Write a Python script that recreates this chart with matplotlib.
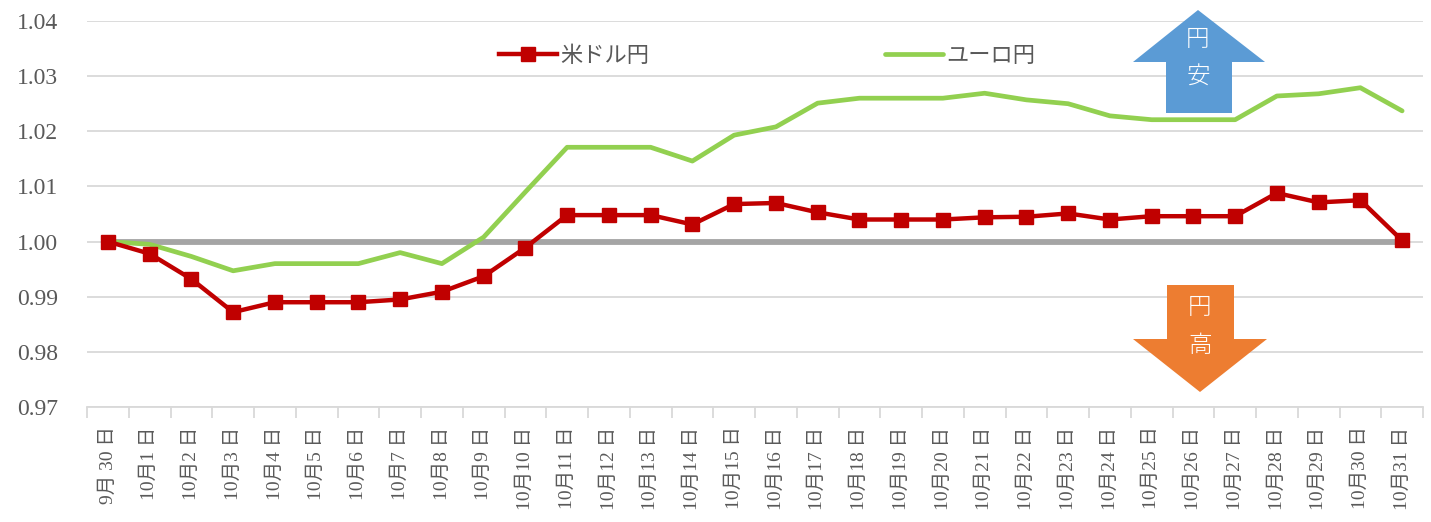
import matplotlib
matplotlib.use("Agg")
import matplotlib.pyplot as plt
from matplotlib.patches import Polygon
import numpy as np

plt.rcParams['font.family'] = ['Liberation Serif', 'Noto Sans CJK JP', 'DejaVu Sans']

dates = ["9月 30 日"] + [f"10月{d} 日" for d in range(1, 32)]
usd_jpy = [1.0000, 0.9978, 0.9932, 0.9872, 0.9890, 0.9890, 0.9890, 0.9895,
           0.9909, 0.9937, 0.9989, 1.0048, 1.0048, 1.0048, 1.0031, 1.0068,
           1.0070, 1.0053, 1.0040, 1.0040, 1.0040, 1.0044, 1.0045, 1.0051,
           1.0040, 1.0046, 1.0046, 1.0046, 1.0088, 1.0071, 1.0075, 1.0002]
eur_jpy = [1.0000, 0.9995, 0.9973, 0.9947, 0.9960, 0.9960, 0.9960, 0.9980,
           0.9960, 1.0008, 1.0090, 1.0171, 1.0171, 1.0171, 1.0146, 1.0193,
           1.0208, 1.0251, 1.0260, 1.0260, 1.0260, 1.0269, 1.0257, 1.0250,
           1.0228, 1.0221, 1.0221, 1.0221, 1.0264, 1.0268, 1.0279, 1.0237]
base = [1.0] * len(dates)
yticks = [0.97, 0.98, 0.99, 1.00, 1.01, 1.02, 1.03, 1.04]

W, H = 1431, 522
fig = plt.figure(figsize=(W / 100, H / 100), dpi=100)
ax = fig.add_axes([87 / W, 1 - 407 / H, 1336 / W, 386 / H])

x = np.arange(len(dates))
ax.plot(x, base, color='#A5A5A5', lw=4.2, zorder=2, solid_capstyle='round')
ax.plot(x, eur_jpy, color='#92D050', lw=3.4, zorder=3, label='ユーロ円',
        solid_capstyle='round')
ax.plot(x, usd_jpy, color='#C00000', lw=3.2, marker='s', ms=9.5, zorder=4,
        label='米ドル円')

ax.set_xlim(-0.5, len(dates) - 0.5)
ax.set_ylim(0.97, 1.04)
ax.set_yticks(yticks)
ax.set_yticklabels([f"{v:.2f}" for v in yticks], fontsize=17, color='#595959')
ax.grid(axis='y', color='#D9D9D9', lw=1.3)
ax.set_axisbelow(True)
for s in ['left', 'right', 'top']:
    ax.spines[s].set_visible(False)
ax.spines['bottom'].set_color('#D9D9D9')
ax.spines['bottom'].set_linewidth(1.3)
ax.tick_params(axis='y', length=0, pad=21)

ax.set_xticks(x)
ax.set_xticklabels(dates, rotation=90, fontsize=14, color='#595959')
ax.tick_params(axis='x', length=0, pad=14)
ax.set_xticks(np.arange(-0.5, len(dates)), minor=True)
ax.tick_params(axis='x', which='minor', length=8, color='#D9D9D9', width=1.3)

# Legend
h, l = ax.get_legend_handles_labels()
order = [1, 0]
leg = ax.legend([h[i] for i in order], [l[i] for i in order], ncol=2,
                loc='center', bbox_to_anchor=(0.5 + 12 / 1336, 1 - (57 - 21) / 386),
                frameon=False, fontsize=16, labelcolor='#595959',
                handlelength=2.6, handletextpad=0.15, columnspacing=10.6)

def fig_pts(pts):
    return [(px / W, 1 - py / H) for px, py in pts]

up = [(1198, 10), (1265, 62), (1232, 62), (1232, 113), (1166, 113),
      (1166, 62), (1133, 62)]
down = [(1167, 285), (1234, 285), (1234, 339), (1267, 339), (1200, 392),
        (1133, 339), (1167, 339)]
fig.patches.append(Polygon(fig_pts(up), closed=True, transform=fig.transFigure,
                           facecolor='#5B9BD5', edgecolor='none', zorder=5))
fig.patches.append(Polygon(fig_pts(down), closed=True, transform=fig.transFigure,
                           facecolor='#ED7D31', edgecolor='none', zorder=5))
for txt, px, py in [("円", 1198, 40), ("安", 1198, 77), ("円", 1200, 308), ("高", 1200, 345)]:
    fig.text(px / W, 1 - py / H, txt, color='white', fontsize=17,
             ha='center', va='center', family=['Noto Sans CJK JP'],
             fontweight='light', zorder=6)

fig.savefig("out.png", dpi=100)
